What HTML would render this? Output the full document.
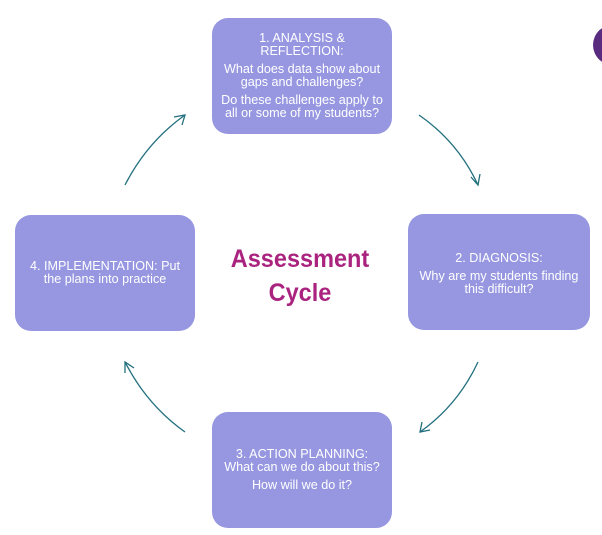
<!DOCTYPE html>
<html><head><style>
body{margin:0;width:602px;height:535px;background:#fff;position:relative;overflow:hidden;font-family:"Liberation Sans",sans-serif}
.b{position:absolute;background:#9797e1;border-radius:16px;color:#fff;font-size:12.6px;line-height:13px;text-align:center;box-sizing:border-box}
.b p{margin:0}
.t{position:absolute;left:205px;top:242px;width:190px;text-align:center;color:#a9237f;font-weight:bold;font-size:25px;line-height:34px;transform:scaleX(0.94)}
</style></head><body>
<div style="position:absolute;left:593px;top:24px;width:44px;height:42px;border-radius:50%;background:#5a2c80"></div>
<div class="b" style="left:212px;top:18px;width:180px;height:116px;padding-top:14px">
<p>1. ANALYSIS &amp;<br>REFLECTION:</p><p style="margin-top:5px">What does data show about<br>gaps and challenges?</p><p style="margin-top:5px">Do these challenges apply to<br>all or some of my students?</p></div>
<div class="b" style="left:408px;top:214px;width:182px;height:116px;padding-top:38px">
<p>2. DIAGNOSIS:</p><p style="margin-top:5px">Why are my students finding<br>this difficult?</p></div>
<div class="b" style="left:15px;top:215px;width:180px;height:116px;padding-top:45px">
<p>4. IMPLEMENTATION: Put<br>the plans into practice</p></div>
<div class="b" style="left:212px;top:412px;width:180px;height:116px;padding-top:36px">
<p>3. ACTION PLANNING:<br>What can we do about this?</p><p style="margin-top:5px">How will we do it?</p></div>
<div class="t">Assessment<br>Cycle</div>
<svg width="602" height="535" style="position:absolute;left:0;top:0" fill="none" stroke="#22707e" stroke-width="1.3">
<path d="M419 115 Q458 142 478 185"/><path d="M471 177 L478 185 L480 174"/>
<path d="M478 362 Q458 405 420 432"/><path d="M422 422 L420 432 L430 430"/>
<path d="M185 432 Q147 405 125 362"/><path d="M125 373 L125 362 L134 368"/>
<path d="M125 185 Q147 142 185 115"/><path d="M174 117 L185 115 L182 125"/>
</svg>
</body></html>
